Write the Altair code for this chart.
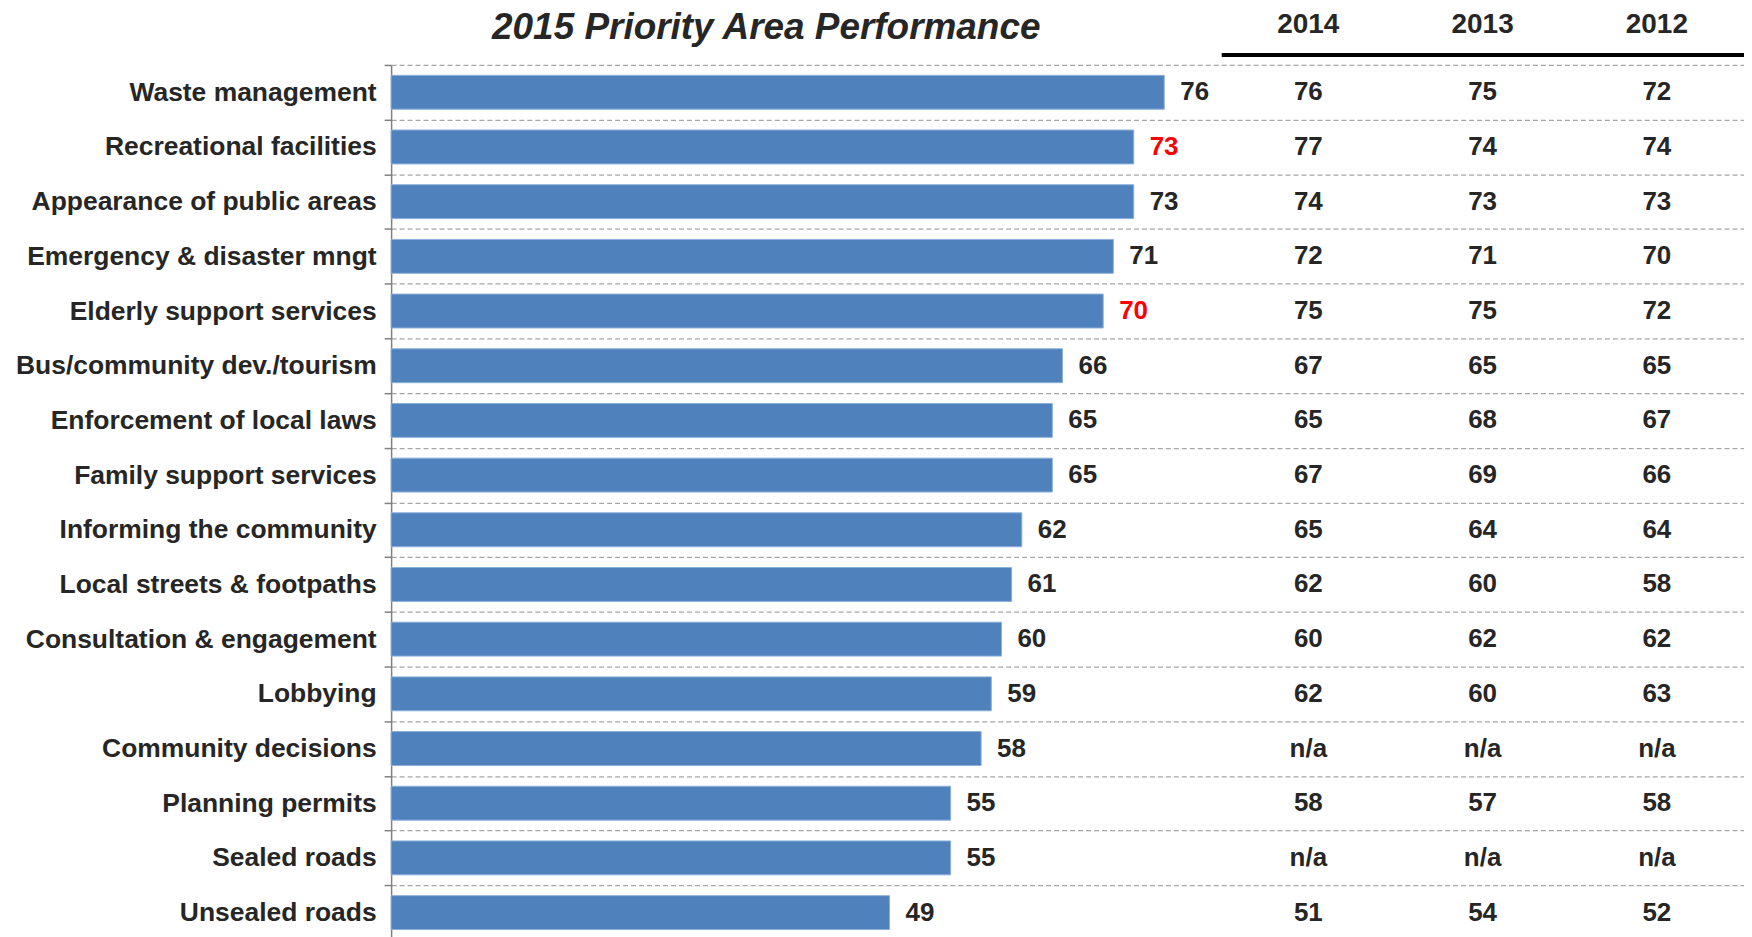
import altair as alt
import pandas as pd

categories = [
    "Waste management", "Recreational facilities", "Appearance of public areas",
    "Emergency & disaster mngt", "Elderly support services", "Bus/community dev./tourism",
    "Enforcement of local laws", "Family support services", "Informing the community",
    "Local streets & footpaths", "Consultation & engagement", "Lobbying",
    "Community decisions", "Planning permits", "Sealed roads", "Unsealed roads",
]
score_2015 = [76, 73, 73, 71, 70, 66, 65, 65, 62, 61, 60, 59, 58, 55, 55, 49]
score_2014 = [76, 77, 74, 72, 75, 67, 65, 67, 65, 62, 60, 62, None, 58, None, 51]
score_2013 = [75, 74, 73, 71, 75, 65, 68, 69, 64, 60, 62, 60, None, 57, None, 54]
score_2012 = [72, 74, 73, 70, 72, 65, 67, 66, 64, 58, 62, 63, None, 58, None, 52]
significantly_lower = [False, True, False, False, True, False, False, False,
                       False, False, False, False, False, False, False, False]
years = ["2014", "2013", "2012"]
title_text = "2015 Priority Area Performance"

FONT = "Liberation Sans"
TEXT = "#262626"
H = 877

bars_df = pd.DataFrame({"category": categories, "score": score_2015, "low": significantly_lower})
bars_df["label"] = bars_df["score"].astype(str)

rows = []
for yr, vals in zip(years, [score_2014, score_2013, score_2012]):
    for c, v in zip(categories, vals):
        rows.append({"category": c, "year": yr, "label": "n/a" if v is None else str(v)})
table_df = pd.DataFrame(rows)


def y_scale():
    return alt.Scale(type="band", domain=categories, paddingInner=0, paddingOuter=0)


grid_kw = dict(grid=True, gridColor="#A6A6A6", gridDash=[5, 3], gridWidth=1.3, tickBand="extent")

y_main = alt.Y(
    "category:N", sort=categories, scale=y_scale(), title=None,
    axis=alt.Axis(labelFont=FONT, labelFontSize=26.5, labelFontWeight="bold", labelColor=TEXT,
                  labelPadding=8, labelLimit=600, tickSize=7, tickColor="#808080", tickWidth=1.5,
                  domainColor="#808080", domainWidth=1.5, **grid_kw),
)

x_main = alt.X("score:Q", scale=alt.Scale(domain=[0, 81.6], nice=False, zero=True), axis=None)

bars = alt.Chart(bars_df).mark_bar(
    color="#4F81BD", stroke="#8DB0DA", strokeWidth=1, height={"band": 0.62}
).encode(x=x_main, y=y_main)

labels = alt.Chart(bars_df).mark_text(
    align="left", dx=16, font=FONT, fontSize=26, fontWeight="bold"
).encode(
    x=x_main,
    y=alt.Y("category:N", sort=categories, scale=y_scale()),
    text="label:N",
    color=alt.condition("datum.low", alt.value("#FF0000"), alt.value(TEXT)),
)

panel1 = alt.layer(bars, labels).properties(
    width=832, height=H,
    title=alt.Title(title_text, font=FONT, fontSize=37, fontStyle="italic", fontWeight="bold",
                    color=TEXT, frame="group", anchor="middle", dx=-40, offset=5),
)

table = alt.Chart(table_df).mark_text(
    font=FONT, fontSize=26, fontWeight="bold", color=TEXT
).encode(
    x=alt.X("year:N", sort=years,
            scale=alt.Scale(type="band", domain=years, paddingInner=0, paddingOuter=0),
            axis=alt.Axis(orient="top", title=None, labelAngle=0, labelFont=FONT,
                          labelFontSize=28, labelFontWeight="bold", labelColor=TEXT,
                          ticks=False, tickSize=0, domainColor="black", domainWidth=4,
                          offset=10.5, labelPadding=16.5, grid=False)),
    y=alt.Y("category:N", sort=categories, scale=y_scale(), title=None,
            axis=alt.Axis(labels=False, ticks=False, domain=False, minExtent=0, **grid_kw)),
    text="label:N",
).properties(width=524, height=H)

chart = alt.hconcat(panel1, table, spacing=0).resolve_scale(y="independent").configure_view(
    stroke=None
).properties(padding={"left": 7, "top": 0, "right": 0, "bottom": 0}, background="white")

chart.save("out.html", embed_options={"renderer": "svg", "actions": False})
